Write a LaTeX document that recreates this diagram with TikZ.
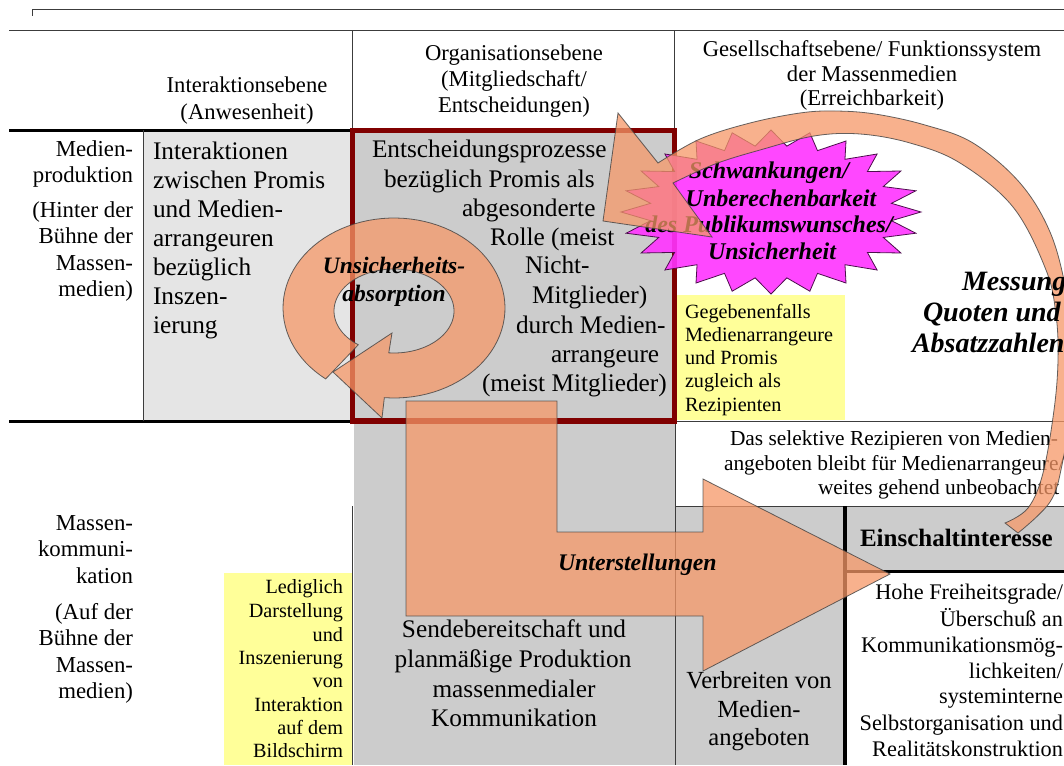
\documentclass[tikz,border=0pt]{standalone}
\usepackage{fontspec}
\setmainfont{Liberation Serif}
\definecolor{redbox}{RGB}{128,0,0}
\definecolor{arrowc}{RGB}{246,152,104}
\definecolor{starc}{RGB}{255,51,255}
\definecolor{lgray}{RGB}{229,229,229}
\definecolor{mgray}{RGB}{204,204,204}
\definecolor{yell}{RGB}{255,255,153}
\definecolor{linec}{RGB}{60,60,60}
\begin{document}
\begin{tikzpicture}[x=1pt,y=-1pt,
  every node/.style={inner sep=0pt, outer sep=0pt},
  hdr/.style={font=\fontsize{22.6}{26}\selectfont, anchor=base},
  lab/.style={font=\fontsize{22.8}{26}\selectfont, anchor=base east},
  cell/.style={font=\fontsize{25.3}{29}\selectfont, anchor=base west},
  cellc/.style={font=\fontsize{25.3}{29}\selectfont, anchor=base},
  note/.style={font=\fontsize{20.2}{23}\selectfont},
  sel/.style={font=\fontsize{21.4}{25}\selectfont, anchor=base west},
  hohe/.style={font=\fontsize{22.3}{26}\selectfont, anchor=base east},
  verb/.style={font=\fontsize{24.6}{28}\selectfont, anchor=base},
  bi/.style={font=\fontsize{#1}{#1}\selectfont\bfseries\itshape},
  lnthin/.style={draw=linec, line width=1pt},
  lnthick/.style={draw=black, line width=3pt},
  arrowfill/.style={fill=arrowc, fill opacity=0.75, draw=black!75, draw opacity=0.8, line width=0.8pt, line join=miter},
]
\useasboundingbox (0,0) rectangle (1064,765);
\fill[white] (0,0) rectangle (1064,765);
\clip (0,0) rectangle (1064,765);

% cell fills
\fill[lgray] (143,131) rectangle (350,420);
\fill[mgray] (354,131) rectangle (675,765);
\fill[mgray] (675,506) rectangle (845,765);
\fill[mgray] (845,506) rectangle (1064,571);
\fill[yell] (677,295) rectangle (845,420);
\fill[yell] (224,573) rectangle (352,765);

% rules
\draw[lnthin] (32,16) -- (32,10) -- (1064,10);
\draw[lnthin] (9,31) -- (1064,31);
\draw[lnthin] (352,31) -- (352,130);
\draw[lnthin] (674,31) -- (674,130);
\draw[lnthick] (9,130) -- (350,130);
\draw[lnthick] (9,421.5) -- (350,421.5);
\draw[lnthin] (143,130) -- (143,421);
\draw[lnthin] (352,506) -- (352,765);
\draw[lnthin] (675,421) -- (1064,421);
\draw[lnthin] (675,506) -- (1064,506);
\draw[lnthin] (675,421) -- (675,765);
\draw[black, line width=4pt] (845,506) -- (845,765);
\draw[black, line width=3pt] (845,571) -- (1064,571);

% red box
\draw[redbox, line width=5.5pt] (352.5,130.5) rectangle (674.5,421);

% header
\node[hdr] (h1) at (247,93) {Interaktionsebene};
\node[hdr] (h2) at (247,119) {(Anwesenheit)};
\node[hdr] (h3) at (514,61) {Organisationsebene};
\node[hdr] (h4) at (514,87) {(Mitgliedschaft/};
\node[hdr] (h5) at (514,113) {Entscheidungen)};
\node[hdr] (h6) at (872,57) {Gesellschaftsebene/ Funktionssystem};
\node[hdr] (h7) at (872,82) {der Massenmedien};
\node[hdr] (h8) at (872,106) {(Erreichbarkeit)};

% row labels
\node[lab] (l1) at (133,156) {Medien-};
\node[lab] (l2) at (133,182) {produktion};
\node[lab] (l3) at (133,217) {(Hinter der};
\node[lab] (l4) at (133,243) {Bühne der};
\node[lab] (l5) at (133,270) {Massen-};
\node[lab] (l6) at (133,296) {medien)};
\node[lab] (l7) at (133,530) {Massen-};
\node[lab] (l8) at (133,556) {kommuni-};
\node[lab] (l9) at (133,583) {kation};
\node[lab] (l10) at (133,619) {(Auf der};
\node[lab] (l11) at (133,645) {Bühne der};
\node[lab] (l12) at (133,672) {Massen-};
\node[lab] (l13) at (133,698) {medien)};

% interaction cell
\node[cell] (a1) at (153,159) {Interaktionen};
\node[cell] (a2) at (153,188) {zwischen Promis};
\node[cell] (a3) at (153,217) {und Medien-};
\node[cell] (a4) at (153,246) {arrangeuren};
\node[cell] (a5) at (153,275) {bezüglich};
\node[cell] (a6) at (153,304) {Inszen-};
\node[cell] (a7) at (153,333) {ierung};

% organisation cell
\node[cell] (b1) at (372,157) {Entscheidungsprozesse};
\node[cell] (b2) at (384,187) {bezüglich Promis als};
\node[cell] (b3) at (462,216) {abgesonderte};
\node[cell] (b4) at (490,245) {Rolle (meist};
\node[cell] (b5) at (525,273) {Nicht-};
\node[cell] (b6) at (532,303) {Mitglieder)};
\node[cell] (b7) at (516,333) {durch Medien-};
\node[cell] (b8) at (551,362) {arrangeure};
\node[cell] (b9) at (482,391) {(meist Mitglieder)};

% yellow notes
\node[note, anchor=base west] (g1) at (685,318) {Gegebenenfalls};
\node[note, anchor=base west] (g2) at (685,341) {Medienarrangeure};
\node[note, anchor=base west] (g3) at (685,364) {und Promis};
\node[note, anchor=base west] (g4) at (685,387) {zugleich als};
\node[note, anchor=base west] (g5) at (685,411) {Rezipienten};
\node[note, anchor=base east] (y1) at (343,593) {Lediglich};
\node[note, anchor=base east] (y2) at (343,617) {Darstellung};
\node[note, anchor=base east] (y3) at (343,641) {und};
\node[note, anchor=base east] (y4) at (343,664) {Inszenierung};
\node[note, anchor=base east] (y5) at (343,687) {von};
\node[note, anchor=base east] (y6) at (343,711) {Interaktion};
\node[note, anchor=base east] (y7) at (343,734) {auf dem};
\node[note, anchor=base east] (y8) at (343,757) {Bildschirm};

% society cells
\node[sel] (d1) at (730,445) {Das selektive Rezipieren von Medien-};
\node[sel] (d2) at (724,470) {angeboten bleibt für Medienarrangeure/};
\node[sel] (d3) at (818,494) {weites gehend unbeobachtet};
\node[font=\fontsize{25}{25}\selectfont\bfseries, anchor=base west] (e1) at (860,546) {Einschaltinteresse};
\node[hohe] (f1) at (1063,599) {Hohe Freiheitsgrade/};
\node[hohe] (f2) at (1063,626) {Überschuß an};
\node[hohe] (f3) at (1063,652) {Kommunikationsmög-};
\node[hohe] (f4) at (1063,678) {lichkeiten/};
\node[hohe] (f5) at (1063,703) {systeminterne};
\node[hohe] (f6) at (1063,730) {Selbstorganisation und};
\node[hohe] (f7) at (1063,756) {Realitätskonstruktion};
\node[verb] (v1) at (759,688) {Verbreiten von};
\node[verb] (v2) at (759,717) {Medien-};
\node[verb] (v3) at (759,745) {angeboten};
\node[cellc] (s1) at (514,637) {Sendebereitschaft und};
\node[cellc] (s2) at (513,667) {planmäßige Produktion};
\node[cellc] (s3) at (514,697) {massenmedialer};
\node[cellc] (s4) at (514,726) {Kommunikation};

% circular arrow: Unsicherheitsabsorption
\path[arrowfill] plot[domain=128:455, samples=90, variable=\t] ({394+111*cos(\t)},{308+90*sin(\t)})
  -- (382,418) -- (333,372) -- (392,333)
  -- plot[domain=455:126.5, samples=90, variable=\t] ({394+60*cos(\t)},{311+42*sin(\t)}) -- cycle;
\node[bi=23.5, anchor=base] (u1) at (394,273) {Unsicherheits-};
\node[bi=23.5, anchor=base] (u2) at (394,301) {absorption};

% starburst
\path[fill=starc, fill opacity=0.9, draw=black!70!starc, line width=0.8pt]
  plot[variable=\t, samples at={0,7.5,...,352.5}]
  ({771+150*(1-0.19*mod(round(\t/7.5),2))*cos(\t)},{212+82*(1-0.19*mod(round(\t/7.5),2))*sin(\t)}) -- cycle;
\node[bi=24, anchor=base] (st1) at (769,178) {Schwankungen/};
\node[bi=24, anchor=base] (st2) at (781,206) {Unberechenbarkeit};
\node[bi=24, anchor=base] (st3) at (769,232) {des Publikumswunsches/};
\node[bi=24, anchor=base] (st4) at (772,259) {Unsicherheit};

% L arrow: Unterstellungen
\path[arrowfill] (406,401) -- (557,401) -- (557,532) -- (703,532) -- (703,479) -- (890,574)
  -- (703,671) -- (703,616) -- (406,616) -- cycle;
\node[bi=23.8, anchor=base west] (w1) at (558,570) {Unterstellungen};

% big arc arrow
\path[arrowfill] (618,113)
  -- plot[smooth, tension=0.6] coordinates {(658,163) (700,139) (750,123) (800,113) (835,111) (875,114) (925,125) (973,143) (1020,183) (1050,232) (1066,290) (1074,350) (1070,410) (1062,465) (1050,502) (1018,533)}
  -- plot[smooth, tension=0.6] coordinates {(1005,523) (1028,508) (1043,473) (1054,410) (1058,360) (1056,315) (1046,270) (1013,207) (960,163) (910,143) (860,134) (814,136) (760,150) (715,164) (673,183)}
  -- (712,237) -- (603,221) -- cycle;
\node[bi=28, anchor=base west] (m1) at (962,290) {Messung};
\node[bi=28, anchor=base west] (m2) at (923,321) {Quoten und};
\node[bi=28, anchor=base west] (m3) at (912,352) {Absatzzahlen};
\end{tikzpicture}
\end{document}
